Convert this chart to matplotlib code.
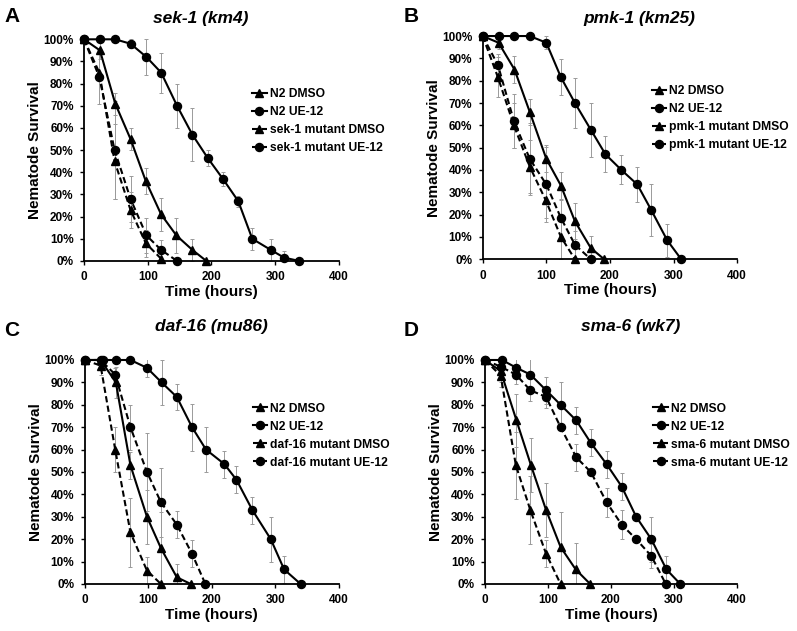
import matplotlib
matplotlib.use("Agg")
import matplotlib.pyplot as plt
from matplotlib.ticker import PercentFormatter

plt.rcParams["font.family"] = ["Liberation Sans", "DejaVu Sans"]
plt.rcParams["font.weight"] = "bold"

# ---------------- data (time in hours, survival in %, error in %) ----------------
# panel A - sek-1 (km4)
a_n2_dmso_t = [0, 25, 49, 73, 97, 121, 145, 170, 192]
a_n2_dmso_s = [100, 95, 71, 55, 36, 21, 11.5, 5, 0]
a_n2_dmso_e = [0, 4, 5, 5, 6, 7.5, 8, 5, 0]
a_n2_ue_t = [0, 25, 49, 73, 98, 121, 146, 170, 194, 218, 242, 264, 293, 314, 338]
a_n2_ue_s = [100, 100, 100, 98, 92, 85, 70, 57, 46.5, 37, 27, 10, 5, 1.5, 0]
a_n2_ue_e = [0, 0, 0, 2, 8, 9, 10, 12, 3.5, 3, 2.5, 5, 5, 3, 0]
a_mut_dmso_t = [0, 24, 48, 73, 97, 121]
a_mut_dmso_s = [100, 85, 45, 23, 8, 1]
a_mut_dmso_e = [0, 0, 17, 8, 6, 0]
a_mut_ue_t = [0, 24, 48, 73, 98, 121, 146]
a_mut_ue_s = [100, 83, 50, 28, 11.5, 5, 0]
a_mut_ue_e = [0, 12, 22, 10.5, 8, 4.5, 0]

# panel B - pmk-1 (km25)
b_n2_dmso_t = [0, 25, 50, 74, 100, 123, 145, 170, 191]
b_n2_dmso_s = [100, 97, 85, 66, 45, 33, 17, 5, 0]
b_n2_dmso_e = [0, 3, 6, 6, 6, 6, 8, 5.5, 0]
b_n2_ue_t = [0, 25, 49, 74, 100, 123, 145, 170, 193, 218, 243, 265, 290, 312]
b_n2_ue_s = [100, 100, 100, 100, 97, 81.5, 70, 58, 47, 40, 33.5, 22, 8.5, 0]
b_n2_ue_e = [0, 0, 0, 0, 3, 8, 11, 12, 8, 6.5, 8, 11.5, 7.5, 0]
b_mut_dmso_t = [0, 24, 49, 74, 99, 123, 145]
b_mut_dmso_s = [100, 81.5, 60, 41.5, 26.5, 10, 0]
b_mut_dmso_e = [0, 9, 10, 12, 8, 10, 0]
b_mut_ue_t = [0, 24, 49, 74, 100, 123, 145, 170]
b_mut_ue_s = [100, 87, 62, 45, 33.5, 18.5, 6.5, 0]
b_mut_ue_e = [0, 5, 12, 16, 17, 8, 6, 0]

# panel C - daf-16 (mu86)
c_n2_dmso_t = [0, 25, 49, 72, 98, 120, 145, 167]
c_n2_dmso_s = [100, 100, 90, 53, 30, 16, 3, 0]
c_n2_dmso_e = [0, 0, 7, 6, 12, 16, 6, 0]
c_n2_ue_t = [0, 28, 49, 72, 98, 121, 145, 169, 191, 220, 239, 264, 293, 314, 340]
c_n2_ue_s = [100, 100, 100, 100, 96.5, 90, 83.5, 70, 60, 53.5, 46.5, 33, 20, 6.5, 0]
c_n2_ue_e = [0, 0, 0, 0, 4, 10, 6, 10.5, 10, 6, 6, 6, 10, 6, 0]
c_mut_dmso_t = [0, 25, 48, 72, 98, 120]
c_mut_dmso_s = [100, 97.5, 60, 23, 6, 0]
c_mut_dmso_e = [0, 4, 10, 15.5, 6, 0]
c_mut_ue_t = [0, 25, 48, 72, 98, 120, 145, 169, 190]
c_mut_ue_s = [100, 100, 93.5, 70, 50, 36.5, 26.5, 13.5, 0]
c_mut_ue_e = [0, 0, 3, 10, 17.5, 15.5, 6, 6, 0]

# panel D - sma-6 (wk7)
d_n2_dmso_t = [0, 25, 50, 73, 97, 120, 144, 167]
d_n2_dmso_s = [100, 95, 73, 53, 33, 16.5, 6.5, 0]
d_n2_dmso_e = [0, 5, 12, 12, 12, 15.5, 12, 0]
d_n2_ue_t = [0, 27, 50, 72, 97, 120, 145, 168, 193, 217, 240, 264, 288, 310]
d_n2_ue_s = [100, 100, 96.5, 93.5, 86.5, 80, 73, 63, 53.5, 43.5, 30, 20, 6.5, 0]
d_n2_ue_e = [0, 0, 4, 7, 6, 10, 6, 6, 6, 6, 0, 10, 6, 0]
d_mut_dmso_t = [0, 25, 49, 72, 97, 120]
d_mut_dmso_s = [100, 93, 53, 33, 13.5, 0]
d_mut_dmso_e = [0, 5, 15, 15, 6, 0]
d_mut_ue_t = [0, 25, 49, 72, 97, 120, 145, 168, 193, 217, 240, 264, 287]
d_mut_ue_s = [100, 97, 93.5, 86.5, 83.5, 70, 56.5, 50, 36.5, 26.5, 20, 12.5, 0]
d_mut_ue_e = [0, 0, 4, 5, 5, 0, 6, 0, 6.5, 6.5, 0, 5.5, 0]

panel_letters = ["A", "B", "C", "D"]
panel_genes = ["sek-1", "pmk-1", "daf-16", "sma-6"]
panel_titles = ["sek-1 (km4)", "pmk-1 (km25)", "daf-16 (mu86)", "sma-6 (wk7)"]

# ---------------- layout (figure fractions) ----------------
axes_pos = [
    [0.1054, 0.5864, 0.3199, 0.3513],
    [0.6056, 0.5891, 0.3194, 0.3538],
    [0.1063, 0.0745, 0.3187, 0.3550],
    [0.6085, 0.0745, 0.3162, 0.3550],
]
title_xy = [(201, 18), (639, 18), (211, 327), (631, 327)]
letter_xy = [(4, 17), (404, 16), (4, 330), (404, 330)]
legend_xy = [(0.659, 0.78), (0.664, 0.78), (0.661, 0.81), (0.668, 0.81)]

W, H = 797, 631
fig = plt.figure(figsize=(W / 100, H / 100), dpi=100)

panels = [
    (a_n2_dmso_t, a_n2_dmso_s, a_n2_dmso_e, a_n2_ue_t, a_n2_ue_s, a_n2_ue_e,
     a_mut_dmso_t, a_mut_dmso_s, a_mut_dmso_e, a_mut_ue_t, a_mut_ue_s, a_mut_ue_e),
    (b_n2_dmso_t, b_n2_dmso_s, b_n2_dmso_e, b_n2_ue_t, b_n2_ue_s, b_n2_ue_e,
     b_mut_dmso_t, b_mut_dmso_s, b_mut_dmso_e, b_mut_ue_t, b_mut_ue_s, b_mut_ue_e),
    (c_n2_dmso_t, c_n2_dmso_s, c_n2_dmso_e, c_n2_ue_t, c_n2_ue_s, c_n2_ue_e,
     c_mut_dmso_t, c_mut_dmso_s, c_mut_dmso_e, c_mut_ue_t, c_mut_ue_s, c_mut_ue_e),
    (d_n2_dmso_t, d_n2_dmso_s, d_n2_dmso_e, d_n2_ue_t, d_n2_ue_s, d_n2_ue_e,
     d_mut_dmso_t, d_mut_dmso_s, d_mut_dmso_e, d_mut_ue_t, d_mut_ue_s, d_mut_ue_e),
]

dash = (0, (3.0, 1.6))
ecol = "#9a9a9a"

for i, p in enumerate(panels):
    ax = fig.add_axes(axes_pos[i])
    gene = panel_genes[i]
    series = [
        (p[0], p[1], p[2], "-", "^", "N2 DMSO"),
        (p[3], p[4], p[5], "-", "o", "N2 UE-12"),
        (p[6], p[7], p[8], dash, "^", gene + " mutant DMSO"),
        (p[9], p[10], p[11], dash, "o", gene + " mutant UE-12"),
    ]
    # error bars first (underneath)
    for t, s, e, ls, mk, lab in series:
        ax.errorbar(t, [v / 100 for v in s], yerr=[v / 100 for v in e], fmt="none",
                    ecolor=ecol, elinewidth=0.7, capsize=1.6, capthick=0.7, zorder=1)
    for t, s, e, ls, mk, lab in series:
        ax.plot(t, [v / 100 for v in s], color="black", linestyle=ls, linewidth=1.5,
                marker=mk, markersize=5.8, label=lab, zorder=3, clip_on=False)

    ax.set_xlim(0, 400)
    ax.set_ylim(0, 1)
    ax.set_xticks([0, 100, 200, 300, 400])
    ax.set_yticks([i / 10 for i in range(11)])
    ax.yaxis.set_major_formatter(PercentFormatter(1.0, decimals=0))
    for sp in ["top", "right"]:
        ax.spines[sp].set_visible(False)
    for sp in ["left", "bottom"]:
        ax.spines[sp].set_linewidth(1.3)
    ax.tick_params(direction="out", length=3, width=1, labelsize=8.5, pad=4.5)
    for lbl in ax.get_xticklabels() + ax.get_yticklabels():
        lbl.set_fontweight("bold")
    ax.set_xlabel("Time (hours)", fontsize=11, fontweight="bold", labelpad=1)
    ax.set_ylabel("Nematode Survival", fontsize=11, fontweight="bold")
    ax.yaxis.set_label_coords(-0.165, 0.5)

    leg = ax.legend(loc="upper left", bbox_to_anchor=legend_xy[i], frameon=False,
                    fontsize=8.7, handlelength=1.2, handletextpad=0.25,
                    labelspacing=0.5, borderpad=0, borderaxespad=0)
    for txt in leg.get_texts():
        txt.set_fontweight("bold")

    tx, ty = title_xy[i]
    fig.text(tx / W, 1 - ty / H, panel_titles[i], ha="center", va="center",
             fontsize=12.5, fontweight="bold", fontstyle="italic")
    lx, ly = letter_xy[i]
    fig.text(lx / W, 1 - ly / H, panel_letters[i], ha="left", va="center",
             fontsize=15, fontweight="bold")

fig.savefig("out.png", dpi=100)
